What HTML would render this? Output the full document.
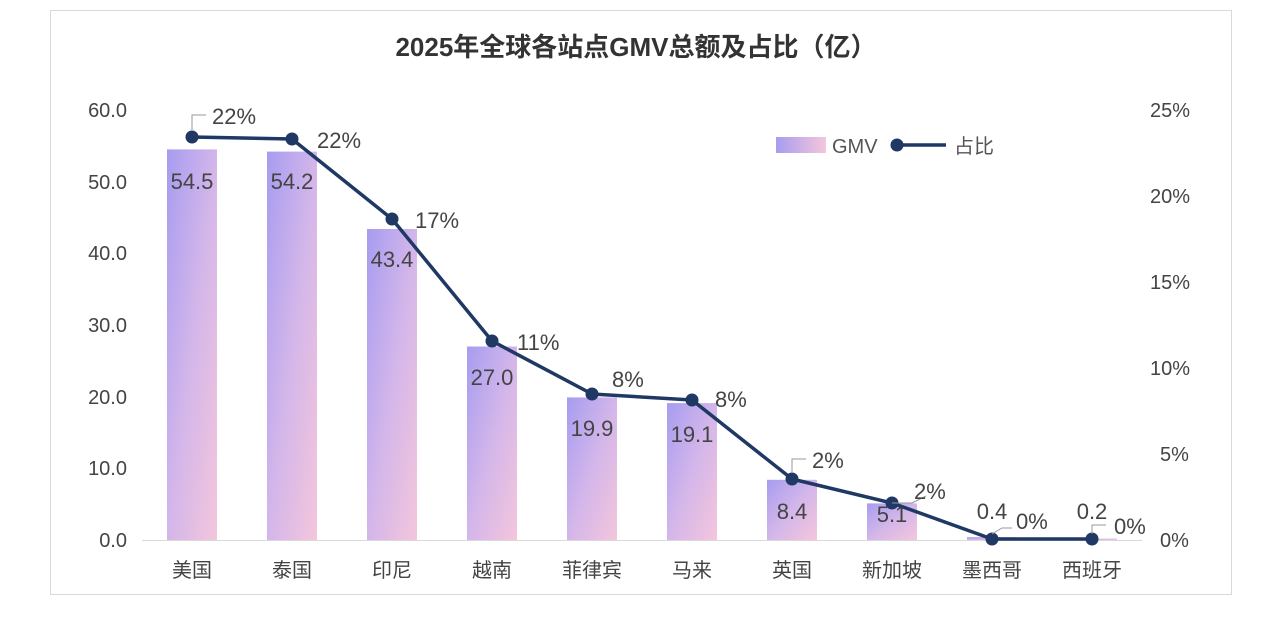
<!DOCTYPE html>
<html><head><meta charset="utf-8"><style>
body{margin:0;background:#fff;}
svg text{font-family:"Liberation Sans","Noto Sans CJK SC",sans-serif;}
</style></head><body>
<svg width="1273" height="626" viewBox="0 0 1273 626" xmlns="http://www.w3.org/2000/svg">
<defs>
<linearGradient id="g" x1="0" y1="0" x2="1" y2="1">
<stop offset="0" stop-color="#a79cf0"/><stop offset="0.5" stop-color="#d3b6ea"/><stop offset="1" stop-color="#f4c6dc"/>
</linearGradient>
<linearGradient id="gl" x1="0" y1="0" x2="1" y2="0">
<stop offset="0" stop-color="#a79cf0"/><stop offset="1" stop-color="#f4c6dc"/>
</linearGradient>
</defs>
<rect x="50.5" y="10.5" width="1181" height="584" fill="#fff" stroke="#d9d9d9"/>
<text x="636" y="56" text-anchor="middle" font-size="26" font-weight="bold" fill="#333">2025年全球各站点GMV总额及占比（亿）</text>
<g font-size="20" fill="#444" text-anchor="end">
<text x="127" y="547">0.0</text><text x="127" y="475">10.0</text><text x="127" y="404">20.0</text>
<text x="127" y="332">30.0</text><text x="127" y="260">40.0</text><text x="127" y="189">50.0</text><text x="127" y="117">60.0</text>
</g>
<g font-size="20" fill="#444" text-anchor="start">
<text x="1160" y="547">0%</text><text x="1160" y="461">5%</text><text x="1150" y="375">10%</text>
<text x="1150" y="289">15%</text><text x="1150" y="203">20%</text><text x="1150" y="117">25%</text>
</g>
<line x1="142" y1="540.5" x2="1142" y2="540.5" stroke="#d9d9d9"/>
<g fill="url(#g)">
<rect x="167" y="149.4" width="50" height="390.6"/>
<rect x="267" y="151.6" width="50" height="388.4"/>
<rect x="367" y="229" width="50" height="311"/>
<rect x="467" y="346.5" width="50" height="193.5"/>
<rect x="567" y="397.4" width="50" height="142.6"/>
<rect x="667" y="403.1" width="50" height="136.9"/>
<rect x="767" y="479.8" width="50" height="60.2"/>
<rect x="867" y="503.4" width="50" height="36.6"/>
<rect x="967" y="537.1" width="50" height="2.9"/>
<rect x="1067" y="538.6" width="50" height="1.4"/>
</g>
<g font-size="22" fill="#444" text-anchor="middle">
<text x="192" y="189">54.5</text><text x="292" y="189">54.2</text><text x="392" y="267">43.4</text>
<text x="492" y="385">27.0</text><text x="592" y="436">19.9</text><text x="692" y="442">19.1</text>
<text x="792" y="519">8.4</text><text x="892" y="522">5.1</text><text x="992" y="519">0.4</text><text x="1092" y="519">0.2</text>
</g>
<polyline fill="none" stroke="#1f3864" stroke-width="3.5" stroke-linejoin="round" points="192,137 292,139 392,219 492,341 592,394 692,400 792,479 892,503 992,539 1092,539"/>
<g fill="#1f3864">
<circle cx="192" cy="137" r="6.5"/><circle cx="292" cy="139" r="6.5"/><circle cx="392" cy="219" r="6.5"/>
<circle cx="492" cy="341" r="6.5"/><circle cx="592" cy="394" r="6.5"/><circle cx="692" cy="400" r="6.5"/>
<circle cx="792" cy="479" r="6.5"/><circle cx="892" cy="503" r="6.5"/><circle cx="992" cy="539" r="6.5"/><circle cx="1092" cy="539" r="6.5"/>
</g>
<g stroke="#999" fill="none" stroke-width="1">
<polyline points="192,130 192,115 206,115"/>
<polyline points="792,473 792,459 806,459"/>
<polyline points="892,503 912,503 926,496"/>
<polyline points="992,534 1002,528 1012,528"/>
<polyline points="1092,534 1092,525 1106,525"/>
</g>
<g font-size="22" fill="#444">
<text x="212" y="124">22%</text><text x="317" y="148">22%</text><text x="415" y="228">17%</text>
<text x="517" y="350">11%</text><text x="612" y="387">8%</text><text x="715" y="407">8%</text>
<text x="812" y="468">2%</text><text x="914" y="499">2%</text><text x="1016" y="529">0%</text><text x="1114" y="534">0%</text>
</g>
<rect x="776" y="137" width="50" height="16" fill="url(#gl)"/>
<text x="832" y="153" font-size="20" fill="#555">GMV</text>
<line x1="896" y1="145" x2="946" y2="145" stroke="#1f3864" stroke-width="3.5"/>
<circle cx="897" cy="145" r="6.5" fill="#1f3864"/>
<text x="954" y="153" font-size="20" fill="#555">占比</text>
<g font-size="20" fill="#444" text-anchor="middle">
<text x="192" y="577">美国</text><text x="292" y="577">泰国</text><text x="392" y="577">印尼</text>
<text x="492" y="577">越南</text><text x="592" y="577">菲律宾</text><text x="692" y="577">马来</text>
<text x="792" y="577">英国</text><text x="892" y="577">新加坡</text><text x="992" y="577">墨西哥</text><text x="1092" y="577">西班牙</text>
</g>
</svg>
</body></html>
